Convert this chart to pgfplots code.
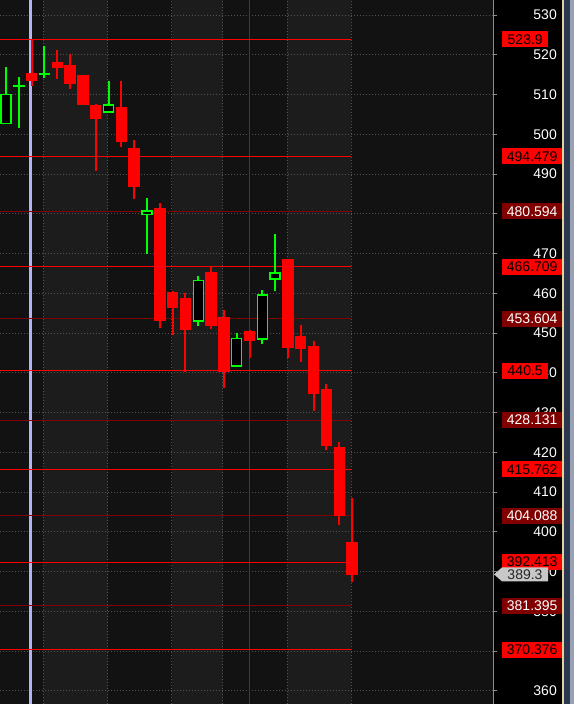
\documentclass[border=0pt]{standalone}
\usepackage{fontspec}
\setmainfont{Liberation Sans}
\usepackage{pgfplots}
\usepgfplotslibrary{statistics}
\pgfplotsset{compat=1.18}

\definecolor{bgdark}{HTML}{121212}
\definecolor{bgband}{HTML}{1C1C1C}
\definecolor{gridc}{HTML}{525252}
\definecolor{cred}{HTML}{FF0000}
\definecolor{cdred}{HTML}{800000}
\definecolor{cgreen}{HTML}{00FF00}
\definecolor{lav}{HTML}{B4B4F4}
\definecolor{vgray}{HTML}{3C3C3C}
\definecolor{axgray}{HTML}{8C8C8C}
\definecolor{lblgray}{HTML}{C8C8C8}
\definecolor{stripbl}{HTML}{2C3850}
\definecolor{stripltb}{HTML}{98A2B4}
\definecolor{stripyel}{HTML}{E0D49C}

\pgfplotsset{
  chartbox/.style={
    at={(0pt,0pt)}, anchor=south west,
    width=493pt, height=704pt, scale only axis,
    xmin=-0.47, xmax=38, ymin=356.7, ymax=533.8,
  }
}

% candle: position, open, high, low, close
\newcommand\bear[5]{\addplot[draw=cred, fill=cred, boxplot prepared={draw position=#1,
  lower whisker=#4, lower quartile=#5, median=#5, upper quartile=#2, upper whisker=#3}] coordinates {};}
\newcommand\bull[5]{\addplot[draw=cgreen, fill=black, boxplot prepared={draw position=#1,
  lower whisker=#4, lower quartile=#2, median=#2, upper quartile=#5, upper whisker=#3}] coordinates {};}

\begin{document}
\begin{tikzpicture}
\fill[black] (0,0) rectangle (574pt,704pt);
\fill[stripyel] (562pt,0) rectangle (563.5pt,704pt);
\fill[stripbl] (563.5pt,0) rectangle (570pt,704pt);
\fill[stripltb] (570pt,0) rectangle (574pt,704pt);

% background bands
\begin{axis}[chartbox, hide axis]
  \fill[bgdark] (rel axis cs:0,0) rectangle (rel axis cs:1,1);
  \fill[bgband] (axis cs:2.92,356.7) rectangle (axis cs:7.92,533.8);
  \fill[bgband] (axis cs:12.92,356.7) rectangle (axis cs:16.92,533.8);
  \fill[bgband] (axis cs:21.92,356.7) rectangle (axis cs:26.92,533.8);
\end{axis}

\begin{axis}[
  chartbox,
  axis line style={draw=none},
  xtick={2.92,7.92,12.92,16.92,21.92,26.92}, xmajorticks=false, xmajorgrids,
  ytick={360,370,...,530}, ymajorgrids, ytick pos=right, yticklabel pos=right,
  grid style={gridc, line width=0.8pt, dash pattern=on 1pt off 2pt},
  tick align=outside, major tick length=4pt,
  ytick style={axgray, line width=1pt},
  yticklabel style={font=\fontsize{14}{14}\selectfont, text=white, anchor=east, inner sep=0pt, xshift=60pt},
  /pgf/number format/assume math mode=true,
  boxplot/draw direction=y,
  boxplot/box extend=0.78,
  boxplot/whisker extend=0,
  boxplot/every box/.append style={line width=1.4pt},
  boxplot/every median/.append style={line width=1.4pt},
  boxplot/every whisker/.append style={line width=2pt},
]
% session markers
\addplot[lav, line width=3pt] coordinates {(1.91,356.7) (1.91,533.8)};
\addplot[vgray, line width=1pt] coordinates {(18.96,356.7) (18.96,533.8)};

% level lines
\addplot[cred, line width=1pt]   coordinates {(-0.47,523.9)   (26.92,523.9)};
\addplot[cred, line width=1.2pt] coordinates {(-0.47,494.479) (26.92,494.479)};
\addplot[cdred, line width=1pt]  coordinates {(-0.47,480.594) (26.92,480.594)};
\addplot[cred, line width=1.2pt] coordinates {(-0.47,466.709) (26.92,466.709)};
\addplot[cdred, line width=1pt]  coordinates {(-0.47,453.604) (26.92,453.604)};
\addplot[cred, line width=1.2pt] coordinates {(-0.47,440.5)   (26.92,440.5)};
\addplot[cdred, line width=1pt]  coordinates {(-0.47,428.131) (26.92,428.131)};
\addplot[cred, line width=1.2pt] coordinates {(-0.47,415.762) (26.92,415.762)};
\addplot[cdred, line width=1pt]  coordinates {(-0.47,404.088) (26.92,404.088)};
\addplot[cred, line width=1pt]   coordinates {(-0.47,392.413) (26.92,392.413)};
\addplot[cdred, line width=1pt]  coordinates {(-0.47,381.395) (26.92,381.395)};
\addplot[cred, line width=1pt]   coordinates {(-0.47,370.376) (26.92,370.376)};

% candles
\bull{0}{502.8}{516.9}{502.6}{510.1}
\bull{1}{512.0}{514.4}{501.6}{512.3}
\bear{2}{515.2}{524.0}{512.1}{513.6}
\bull{3}{515.0}{522.2}{514.2}{515.3}
\bear{4}{517.9}{521.2}{513.9}{516.9}
\bear{5}{517.2}{520.2}{511.4}{512.9}
\bear{6}{514.7}{514.8}{507.4}{507.6}
\bear{7}{507.1}{507.6}{490.8}{504.1}
\bull{8}{505.6}{513.4}{505.3}{507.4}
\bear{9}{506.6}{513.4}{496.8}{498.3}
\bear{10}{496.5}{498.6}{483.7}{487.0}
\bull{11}{479.9}{484.0}{469.9}{480.7}
\bear{12}{481.2}{482.7}{451.3}{453.3}
\bear{13}{460.1}{460.6}{449.5}{456.5}
\bear{14}{458.6}{460.1}{440.2}{451.0}
\bull{15}{453.0}{464.3}{451.8}{463.3}
\bear{16}{465.1}{466.6}{451.0}{452.0}
\bear{17}{454.0}{455.8}{436.2}{440.4}
\bull{18}{441.7}{450.0}{441.4}{448.7}
\bear{19}{450.3}{450.8}{443.7}{448.2}
\bull{20}{448.5}{460.8}{447.2}{459.6}
\bull{21}{463.6}{474.9}{460.6}{465.1}
\bear{22}{468.4}{468.5}{443.7}{446.5}
\bear{23}{449.0}{452.0}{442.7}{446.2}
\bear{24}{446.5}{448.0}{430.4}{434.9}
\bear{25}{435.7}{437.2}{420.6}{421.8}
\bear{26}{421.3}{422.6}{401.7}{404.2}
\bear{27}{397.4}{408.5}{387.4}{389.3}

\coordinate (L1) at (axis cs:38,523.9);
\coordinate (L2) at (axis cs:38,494.479);
\coordinate (L3) at (axis cs:38,480.594);
\coordinate (L4) at (axis cs:38,466.709);
\coordinate (L5) at (axis cs:38,453.604);
\coordinate (L6) at (axis cs:38,440.5);
\coordinate (L7) at (axis cs:38,428.131);
\coordinate (L8) at (axis cs:38,415.762);
\coordinate (L9) at (axis cs:38,404.088);
\coordinate (L10) at (axis cs:38,392.413);
\coordinate (L11) at (axis cs:38,381.395);
\coordinate (L12) at (axis cs:38,370.376);
\coordinate (P) at (axis cs:38,389.3);
\end{axis}

\draw[axgray, line width=1pt] (493.5pt,0) -- (493.5pt,704pt);

\tikzset{
  lb/.style={anchor=west, xshift=9pt, fill=cred, text=black, inner xsep=0pt, inner ysep=0pt,
    minimum height=16pt, minimum width=60pt, font=\fontsize{14}{14}\selectfont},
  ld/.style={lb, fill=cdred, text=white},
  ls/.style={lb, minimum width=46pt}
}
\node[ls] at (L1) {523.9};
\node[lb] at (L2) {494.479};
\node[ld] at (L3) {480.594};
\node[lb] at (L4) {466.709};
\node[ld] at (L5) {453.604};
\node[ls] at (L6) {440.5};
\node[ld] at (L7) {428.131};
\node[lb] at (L8) {415.762};
\node[ld] at (L9) {404.088};
\node[lb] at (L10) {392.413};
\node[ld] at (L11) {381.395};
\node[lb] at (L12) {370.376};

\fill[lblgray] ([xshift=1pt]P) -- ++(8pt,7pt) -- ++(46pt,0) -- ++(0,-14pt) -- ++(-46pt,0) -- cycle;
\node[font=\fontsize{14}{14}\selectfont, text={black!85}, inner sep=0pt] at ([xshift=32pt]P) {389.3};

\pgfresetboundingbox
\useasboundingbox (0,0) rectangle (574pt,704pt);
\end{tikzpicture}
\end{document}
